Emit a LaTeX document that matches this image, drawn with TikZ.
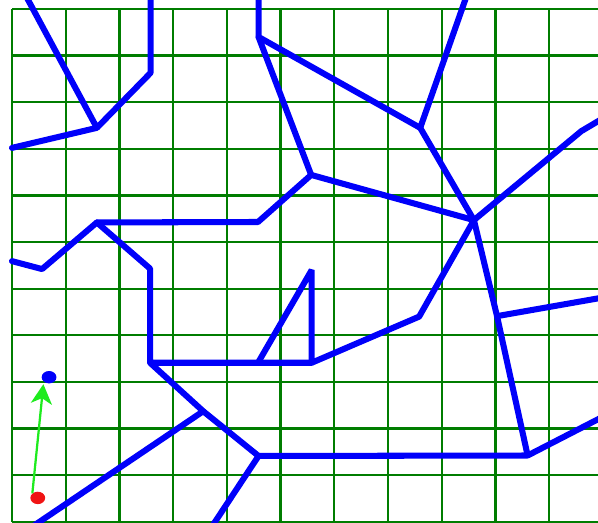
\documentclass[tikz,border=0pt]{standalone}
\usepackage{xcolor}
\usepackage{tikz}
\usetikzlibrary{shapes,arrows,arrows.meta,positioning,calc}
\definecolor{gridgreen}{RGB}{0,125,0}
\definecolor{brightgreen}{RGB}{30,235,30}
\definecolor{roadblue}{RGB}{0,0,250}
\definecolor{dotred}{RGB}{240,20,20}
\tikzset{
    gridline/.style={
        draw=gridgreen,
        line width=1.6pt,
        xstep=1.3425cm,
        ystep=1.165cm
    },
    road/.style={
        draw=roadblue,
        line width=4.3pt,
        line join=bevel,
        line cap=round
    },
    marker/.style={
        ellipse,
        inner sep=0pt,
        minimum width=0.37cm,
        minimum height=0.31cm
    },
    motion/.style={
        -{Stealth[length=14pt,width=15pt,inset=4pt]},
        draw=brightgreen,
        line width=1.6pt
    }
}

\begin{document}
\begin{tikzpicture}[x=1.3425cm, y=1.165cm]
\clip (-0.2235,-0.01) rectangle (10.91,11.193);

% Grid
\draw[gridline] (0,0) grid (11,11);

% Upper left
\coordinate (tl-top) at (0.25,11.3);
\coordinate (tl-knee) at (1.58,8.45);
\coordinate (tl-bend) at (2.58,9.63);
\coordinate (tl-up) at (2.58,11.3);
\coordinate (tl-left) at (0,8.02);

% Upper middle and right
\coordinate (tm-top) at (4.59,11.3);
\coordinate (tm-bend) at (4.59,10.40);
\coordinate (tr-fork) at (7.60,8.45);
\coordinate (tr-top) at (8.47,11.3);
\coordinate (mid-fork) at (5.57,7.44);
\coordinate (mid-bend) at (4.58,6.43);
\coordinate (hub) at (8.60,6.47);
\coordinate (right-bend) at (10.60,8.38);
\coordinate (right-end) at (11.2,8.79);

% Right side
\coordinate (branch-r) at (9.03,4.41);
\coordinate (branch-end) at (11.2,4.85);
\coordinate (low-right) at (9.60,1.42);
\coordinate (low-end) at (11.2,2.37);
\coordinate (mid-right) at (7.58,4.40);

% Triangle and box
\coordinate (tri-base) at (5.58,3.41);
\coordinate (tri-top) at (5.58,5.40);
\coordinate (tri-left) at (4.58,3.41);
\coordinate (box-corner) at (2.57,3.41);
\coordinate (box-top) at (2.57,5.43);

% Left side
\coordinate (left-fork) at (1.58,6.42);
\coordinate (left-dip) at (0.56,5.42);
\coordinate (left-end) at (0,5.59);

% Bottom
\coordinate (cross) at (3.56,2.37);
\coordinate (low-hub) at (4.59,1.41);
\coordinate (bl-end) at (0.13,-0.3);
\coordinate (bm-end) at (3.61,-0.3);

% Roads
\draw[road] (tl-top) -- (tl-knee) -- (tl-bend) -- (tl-up);
\draw[road] (tl-left) -- (tl-knee);
\draw[road] (tm-top) -- (tm-bend) -- (tr-fork) -- (tr-top);
\draw[road] (tm-bend) -- (mid-fork) -- (hub);
\draw[road] (tr-fork) -- (hub);
\draw[road] (mid-fork) -- (mid-bend) -- (left-fork) -- (left-dip) -- (left-end);
\draw[road] (hub) -- (right-bend) -- (right-end);
\draw[road] (hub) -- (branch-r) -- (low-right) -- (low-end);
\draw[road] (branch-r) -- (branch-end);
\draw[road] (hub) -- (mid-right) -- (tri-base) -- (tri-top) -- (tri-left);
\draw[road] (left-fork) -- (box-top) -- (box-corner) -- (tri-base);
\draw[road] (box-corner) -- (cross) -- (low-hub) -- (low-right);
\draw[road] (cross) -- (bl-end);
\draw[road] (low-hub) -- (bm-end);

% Start and goal
\node[marker, fill=dotred] (red-dot) at (0.48,0.51) {};
\node[marker, fill=roadblue] (blue-dot) at (0.69,3.10) {};
\draw[motion, shorten >=0.06cm] (red-dot.north west) -- (blue-dot.south west);
\end{tikzpicture}
\end{document}
